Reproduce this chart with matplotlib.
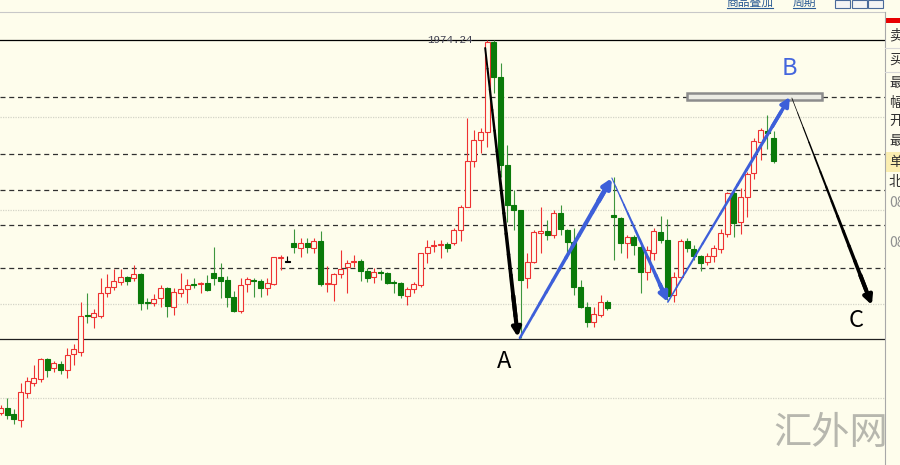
import numpy as np
import matplotlib.pyplot as plt
from matplotlib.patches import Rectangle
from matplotlib.lines import Line2D

plt.rcParams['font.family'] = ['Noto Sans CJK SC', 'DejaVu Sans']

BG = '#fefdec'
RED = '#ee3232'
GREEN = '#0a7a0a'
GREEN_WICK = '#3e963e'
BLUE = '#3d5fd9'

# daily candles, oldest first
opens = [1601, 1606.3, 1600, 1594, 1621.3, 1631.3, 1634.7, 1654.7, 1645.7, 1649.7,
         1644, 1660, 1662.3, 1699, 1696.7, 1698, 1720.7, 1727.3, 1732.3, 1736.7,
         1735.7, 1740, 1712.3, 1711.3, 1716.3, 1726.3, 1707.3, 1721.3, 1724.7, 1730,
         1729.7, 1730.7, 1741.3, 1736.7, 1734, 1717.3, 1703, 1730, 1734, 1733.3,
         1725.7, 1730, 1756.3, 1752, 1770.7, 1765.7, 1771.3, 1765.7, 1773, 1729.7,
         1730, 1740, 1746.7, 1752.3, 1753, 1743.3, 1737.3, 1741.7, 1740.7, 1731.3,
         1731.3, 1718, 1725, 1729, 1761.3, 1768, 1768.7, 1769.7, 1770.7, 1784,
         1807.3, 1853, 1874, 1882.3, 1972.3, 1937.3, 1849, 1809, 1804, 1735.7,
         1752.3, 1781.3, 1783, 1779, 1801.3, 1784, 1772.3, 1727.3, 1707.3, 1692.3,
         1699, 1712.3, 1799, 1795.7, 1770.7, 1776.7, 1767.3, 1742.3, 1760.7, 1782.3,
         1774, 1719, 1737.3, 1773.3, 1765, 1758, 1752.3, 1758, 1764.7, 1780,
         1820.7, 1792.3, 1816.7, 1841.3, 1872.3, 1883.3, 1875.7]
highs = [1609, 1616, 1605, 1631.3, 1637.3, 1649, 1656, 1656, 1653, 1653,
         1666.3, 1669.7, 1712.3, 1720.7, 1704.7, 1735.7, 1739.7, 1744.7, 1744.7, 1738,
         1749, 1741.3, 1715.7, 1719.7, 1729, 1727.3, 1725.7, 1741.3, 1734.7, 1735.7,
         1732.3, 1739, 1767.3, 1750.7, 1738, 1723, 1735.7, 1737.3, 1735.7, 1734.7,
         1735.7, 1757.3, 1759, 1758, 1785, 1775.7, 1775.7, 1775.7, 1783, 1748,
         1741.3, 1764, 1754, 1759, 1754.7, 1745.7, 1745.7, 1744, 1742.3, 1734,
         1732.3, 1727.3, 1732.3, 1761.3, 1774, 1774, 1774, 1772.3, 1786.3, 1809,
         1895.7, 1884, 1885.7, 1974.24, 1974, 1950.7, 1869, 1824, 1804, 1760.7,
         1784, 1807.3, 1794, 1804, 1809, 1784.7, 1785.7, 1734, 1712.3, 1707.3,
         1719, 1714, 1837.3, 1797.3, 1779, 1779, 1769, 1768, 1785.7, 1798.3,
         1794.7, 1742.3, 1774.7, 1775.7, 1769, 1759, 1761.3, 1769, 1784.7, 1822.3,
         1824, 1825.7, 1842.3, 1875.7, 1885.7, 1899, 1883.3]
lows = [1599, 1595, 1590, 1587.3, 1616, 1628, 1632.3, 1637.3, 1642.3, 1639.7,
        1636.3, 1649, 1658, 1691.3, 1685.7, 1695.7, 1717.3, 1724, 1729, 1729,
        1733.3, 1704, 1704.7, 1708, 1707.3, 1697.3, 1699, 1717.3, 1710.7, 1725.7,
        1721.3, 1723.3, 1729, 1715.7, 1707.3, 1702.3, 1701.3, 1722.3, 1717.3, 1717.3,
        1719, 1729, 1744, 1752, 1761.3, 1756.7, 1761.3, 1761.3, 1728, 1722.3,
        1713.3, 1735.7, 1720.7, 1746.7, 1733.3, 1732.3, 1730.7, 1734, 1730, 1720.7,
        1715.7, 1709, 1720.7, 1727.3, 1750.7, 1762.3, 1755.7, 1762.3, 1769, 1773,
        1807.3, 1847.3, 1860.7, 1867.3, 1920.7, 1837.3, 1792.3, 1784, 1676, 1725.7,
        1750.7, 1760.7, 1774, 1775.7, 1779, 1762.3, 1719, 1705.7, 1687.3, 1687.3,
        1697.3, 1704, 1754, 1760.7, 1755.7, 1759, 1720.7, 1734, 1754, 1770.7,
        1714, 1712.3, 1734.7, 1762.3, 1754, 1743.3, 1749, 1752.3, 1760.7, 1776.7,
        1777.3, 1780, 1797.3, 1834.7, 1854, 1864.7, 1851.3]
closes = [1606.3, 1599, 1595, 1622.3, 1633, 1635.7, 1654.7, 1644, 1650.7, 1644,
          1659, 1664.7, 1698, 1698, 1700.7, 1720.7, 1726.7, 1733, 1737.3, 1733.3,
          1739.7, 1711.3, 1711.3, 1714.7, 1725.7, 1708, 1722.3, 1724.7, 1729, 1729.3,
          1731.3, 1724, 1735.7, 1733.3, 1717.3, 1703, 1729, 1734.7, 1733, 1725.7,
          1731.3, 1756.7, 1757.3, 1752, 1766.7, 1771.3, 1766.7, 1773, 1730, 1730.7,
          1739.7, 1744.7, 1751.3, 1753.3, 1743.3, 1735.7, 1742.3, 1740.7, 1731.3, 1730.7,
          1719, 1724.7, 1729.7, 1760.7, 1767.3, 1769, 1769.7, 1765.7, 1784, 1806.7,
          1853, 1874, 1882.3, 1972.3, 1937.3, 1849, 1809, 1804, 1734, 1752.3,
          1782.3, 1783, 1779, 1801.3, 1784.7, 1772.3, 1727.3, 1707.3, 1692.3, 1699.7,
          1712.3, 1705.7, 1797.3, 1770.7, 1776.7, 1769, 1742.3, 1764, 1783.3, 1774,
          1718, 1737.3, 1773, 1765.7, 1758, 1750.7, 1758, 1766.3, 1780.7, 1820.7,
          1791.3, 1816.7, 1840, 1873.3, 1884, 1881.3, 1853.3]
flat_marks = [43]  # the little black "⊥" bar

peak = 1974.24
bottom_line = 1674.5
dashed_levels = [1917.3, 1860.3, 1824, 1788.7, 1746]
grid_levels = [1897.3, 1804, 1709.7, 1616.3]

# wave points A -> up -> down -> B -> C  (bar index, price)
wave_down = [(72.7, 1966), (77.6, 1677)]
wave_blue = [(77.9, 1676), (91.7, 1836), (100.1, 1712), (118.4, 1917)]
wave_c = [(118.7, 1916), (130.7, 1709)]

fig = plt.figure(figsize=(9, 4.65), dpi=100, facecolor=BG)
ax = fig.add_axes([0, 0, 885 / 900, (465 - 12) / 465])
ax.set_facecolor(BG)
ax.set_xlim(-0.075, 132.67)
ax.set_ylim(1549, 2002)
ax.axis('off')

# horizontal levels
for v in grid_levels:
    ax.axhline(v, color='#d4d4c8', lw=0.9, ls=(0, (1, 1)), zorder=1)
for v in dashed_levels:
    ax.axhline(v, color='#303030', lw=0.9, ls=(0, (4, 3)), zorder=1)
ax.axhline(peak, color='k', lw=0.9, zorder=1)
ax.axhline(bottom_line, color='#202020', lw=0.9, zorder=1)

# candles
o = np.array(opens)
h = np.array(highs)
l = np.array(lows)
c = np.array(closes)
x = np.arange(len(o))
up = c >= o
wick_cols = [RED if u else GREEN_WICK for u in up]
edge_cols = [RED if u else GREEN for u in up]
face_cols = [BG if u else GREEN for u in up]
for i in flat_marks:
    wick_cols[i] = edge_cols[i] = face_cols[i] = 'k'
ax.vlines(x, l, h, colors=wick_cols, lw=0.8, zorder=2)
bot = np.minimum(o, c)
hgt = np.maximum(np.abs(c - o), 0.9)
ax.bar(x, hgt, 0.72, bot, facecolor=face_cols, edgecolor=edge_cols, lw=0.8, zorder=3)

ax.text(67.4, peak, '1974.24', fontsize=7.8, family='Liberation Mono',
        color='#404050', ha='center', va='center', zorder=4)


def taper(p0, p1, w0, w1, color, n=14, head=True):
    xs = np.linspace(p0[0], p1[0], n + 1)
    ys = np.linspace(p0[1], p1[1], n + 1)
    for i in range(n - 1):
        ax.plot(xs[i:i + 2], ys[i:i + 2], color=color,
                lw=w0 + (w1 - w0) * i / (n - 1), solid_capstyle='round', zorder=5)
    if head:
        ax.annotate('', xy=p1, xytext=(xs[-3], ys[-3]),
                    arrowprops=dict(arrowstyle='-|>', color=color, lw=w1,
                                    mutation_scale=13, shrinkA=0, shrinkB=0), zorder=5)


taper(wave_down[0], wave_down[1], 1.4, 3.0, 'k')
taper(wave_blue[0], wave_blue[1], 1.8, 3.4, BLUE)
taper(wave_blue[1], wave_blue[2], 0.8, 3.0, BLUE)
taper(wave_blue[2], wave_blue[3], 1.2, 2.6, BLUE)
taper(wave_c[0], wave_c[1], 0.5, 3.0, 'k')

# resistance box near B
ax.add_patch(Rectangle((102.97, 1914), 20.2, 7, facecolor='#ececE4',
                       edgecolor='#8c8c8c', lw=1.8, zorder=4))

ax.text(75.5, 1652, 'A', fontsize=17, color='k', ha='center', va='center', zorder=6)
ax.text(118.3, 1945, 'B', fontsize=17, color='#4466dd', ha='center', va='center', zorder=6)
ax.text(128.3, 1693, 'C', fontsize=17, color='k', ha='center', va='center', zorder=6)
ax.text(124.5, 1580, '汇外网', fontsize=27.5, color='#b7b7ae', ha='center', va='center', zorder=6)


def fx(px):
    return px / 900


def fy(py):
    return 1 - py / 465


# top toolbar
fig.add_artist(Line2D([0, fx(885)], [fy(11.7)] * 2, color='#c8c8c8', lw=0.8))
for label, cx, x0, x1 in [('商品叠加', 750, 727, 773), ('周期', 804, 793, 815)]:
    fig.text(fx(cx), fy(2), label, fontsize=8.5, color='#2a5a94', ha='center', va='center')
    fig.add_artist(Line2D([fx(x0), fx(x1)], [fy(8.5)] * 2, color='#2a5a94', lw=0.8))
for bx in [835, 851.7, 867.7]:
    fig.add_artist(Rectangle((fx(bx), fy(8.5)), fx(15), 8.5 / 465, transform=fig.transFigure,
                             facecolor='#f4f4f4', edgecolor='#4a6a9a', lw=0.8))

# right side panel
fig.add_artist(Line2D([fx(885)] * 2, [fy(12), 0], color='#a8a8a8', lw=0.8))
fig.add_artist(Rectangle((fx(885), fy(23)), fx(15), 5 / 465, transform=fig.transFigure,
                         facecolor='#e80000', edgecolor='none'))
fig.add_artist(Rectangle((fx(886), fy(172)), fx(14), 20 / 465, transform=fig.transFigure,
                         facecolor='#fbeeb0', edgecolor='none'))
for sep in [48, 72]:
    fig.add_artist(Line2D([fx(885), 1], [fy(sep)] * 2, color='#d8d8d8', lw=0.8))
panel_rows = [('卖', 35), ('买', 60), ('最', 83), ('幅', 103), ('开', 121),
              ('最', 141), ('单', 162), ('北', 182), ('08', 203), ('08', 243)]
for txt, py in panel_rows:
    col = '#909090' if txt == '08' else '#303030'
    fig.text(fx(889), fy(py), txt, fontsize=10, color=col, ha='left', va='center')

fig.savefig('out.png', dpi=100, facecolor=BG)
